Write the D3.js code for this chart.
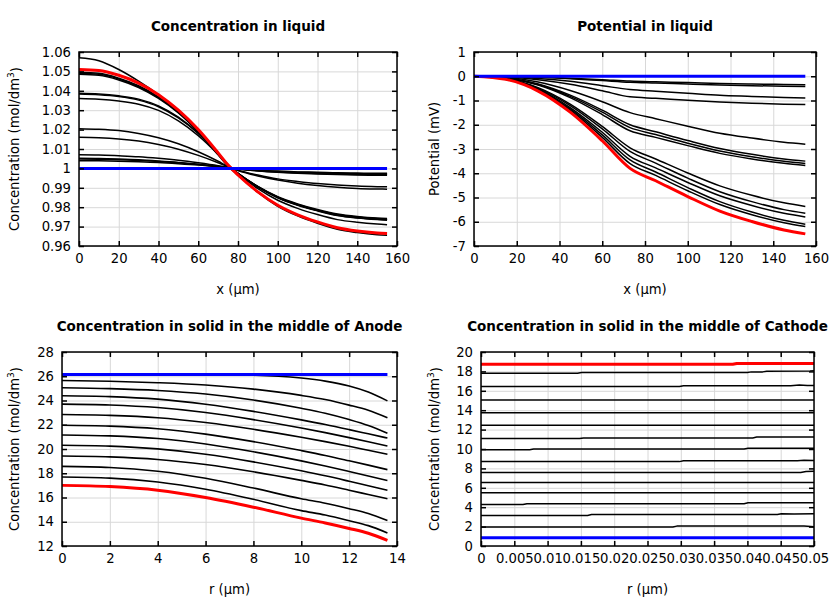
<!DOCTYPE html>
<html><head><meta charset="utf-8">
<script src="https://cdn.jsdelivr.net/npm/d3@7"></script>
<style>
body{margin:0;background:#fff;}
svg{display:block;font-family:"DejaVu Sans",sans-serif;}
</style></head><body>
<svg id="chart" width="840" height="600"></svg>
<script>
// ---------- DATA ----------
// Panel 1: Concentration in liquid
const liqX = [0,10,20,30,40,50,60,70,75,80,90,100,110,120,130,140,150,155];
const liqBlack = [
 [1.057,1.0555,1.051,1.045,1.038,1.030,1.019,1.007,1.001,0.99655,0.9876,0.9805,0.9755,0.9717,0.9686,0.9669,0.9658,0.9655],
 [1.0495,1.049,1.0465,1.0426,1.0369,1.0292,1.0193,1.0078,1.0016,0.9974,0.9907,0.9854,0.9817,0.9788,0.9765,0.9752,0.9744,0.9742],
 [1.049,1.0485,1.0461,1.0421,1.0365,1.0289,1.0191,1.0077,1.0016,0.9974,0.9905,0.9851,0.9813,0.9784,0.9761,0.9748,0.974,0.9737],
 [1.0485,1.048,1.0456,1.0417,1.0361,1.0286,1.0189,1.0076,1.0016,0.9974,0.9905,0.985,0.9812,0.9783,0.9759,0.9746,0.9738,0.9735],
 [1.0388,1.0384,1.0374,1.0357,1.0322,1.0264,1.0182,1.0078,1.0019,0.9974,0.9906,0.9852,0.9814,0.9785,0.9762,0.9748,0.9741,0.9738],
 [1.0383,1.0379,1.037,1.0352,1.0318,1.026,1.018,1.0077,1.0019,0.9973,0.9904,0.9849,0.981,0.9781,0.9757,0.9744,0.9736,0.9733],
 [1.036,1.0356,1.0347,1.0331,1.0299,1.0245,1.0169,1.0072,1.0018,0.9971,0.9896,0.9836,0.9794,0.9762,0.9736,0.9722,0.9713,0.971],
 [1.0205,1.0202,1.0195,1.018,1.0158,1.0127,1.0086,1.0037,1.001,0.9991,0.9966,0.9946,0.9933,0.9922,0.9914,0.9909,0.9906,0.9905],
 [1.016,1.0158,1.0152,1.0141,1.0123,1.0099,1.0067,1.0029,1.0008,0.9989,0.9961,0.994,0.9924,0.9912,0.9903,0.9897,0.9894,0.9893],
 [1.007,1.0069,1.0065,1.006,1.0052,1.0042,1.0029,1.0014,1.0005,0.9997,0.999,0.9984,0.998,0.9977,0.9975,0.9973,0.9972,0.9972],
 [1.0052,1.0051,1.0048,1.0044,1.0038,1.0031,1.0022,1.001,1.0004,0.9997,0.9988,0.9982,0.9977,0.9974,0.9971,0.9969,0.9968,0.9968],
 [1.0048,1.0047,1.0045,1.0041,1.0036,1.0029,1.002,1.001,1.0003,0.9997,0.9987,0.998,0.9975,0.9971,0.9968,0.9966,0.9965,0.9965],
 [1.004,1.0039,1.0037,1.0034,1.003,1.0024,1.0017,1.0008,1.0003,0.9998,0.9991,0.9986,0.9982,0.998,0.9977,0.9976,0.9975,0.9975]
];
const liqRed  = [1.051,1.0505,1.048,1.044,1.038,1.030,1.020,1.008,1.0017,0.9966,0.9879,0.981,0.9761,0.9724,0.9694,0.9677,0.9667,0.9664];
const liqBlue = [1,1,1,1,1,1,1,1,1,1,1,1,1,1,1,1,1,1];
const liqXTicks = [0,20,40,60,80,100,120,140,160];
const liqYTicks = [0.96,0.97,0.98,0.99,1,1.01,1.02,1.03,1.04,1.05,1.06];

// Panel 2: Potential in liquid
const potX = [0,15,30,45,60,73,85,100,115,130,145,155];
const potBlack = [
 [0,-0.01,-0.03,-0.08,-0.14,-0.2,-0.23,-0.26,-0.3,-0.32,-0.34,-0.35],
 [0,-0.01,-0.04,-0.1,-0.18,-0.25,-0.28,-0.32,-0.36,-0.39,-0.41,-0.42],
 [0,-0.02,-0.09,-0.21,-0.39,-0.55,-0.62,-0.7,-0.78,-0.83,-0.88,-0.9],
 [0,-0.03,-0.14,-0.33,-0.6,-0.85,-0.91,-0.99,-1.06,-1.11,-1.15,-1.17],
 [0,-0.05,-0.24,-0.59,-1.05,-1.5,-1.75,-2.06,-2.35,-2.55,-2.72,-2.8],
 [0,-0.07,-0.32,-0.78,-1.4,-2.0,-2.29,-2.65,-2.98,-3.22,-3.41,-3.5],
 [0,-0.07,-0.34,-0.83,-1.48,-2.12,-2.4,-2.76,-3.08,-3.32,-3.51,-3.6],
 [0,-0.08,-0.36,-0.88,-1.58,-2.25,-2.52,-2.86,-3.18,-3.41,-3.59,-3.68],
 [0,-0.1,-0.47,-1.15,-2.07,-2.95,-3.41,-3.99,-4.52,-4.91,-5.22,-5.37],
 [0,-0.11,-0.5,-1.21,-2.17,-3.1,-3.58,-4.2,-4.76,-5.17,-5.5,-5.65],
 [0,-0.12,-0.53,-1.29,-2.31,-3.3,-3.78,-4.38,-4.93,-5.33,-5.65,-5.8],
 [0,-0.12,-0.55,-1.35,-2.42,-3.45,-3.95,-4.59,-5.17,-5.6,-5.94,-6.1],
 [0,-0.13,-0.58,-1.4,-2.52,-3.6,-4.09,-4.72,-5.29,-5.71,-6.04,-6.2]
];
const potRed  = [0,-0.13,-0.61,-1.48,-2.66,-3.8,-4.31,-4.96,-5.56,-5.99,-6.34,-6.5];
const potBlue = [0,0,0,0,0,0,0,0,0,0,0,0];
const potXTicks = [0,20,40,60,80,100,120,140,160];
const potYTicks = [-7,-6,-5,-4,-3,-2,-1,0,1];

// Panel 3: Concentration in solid, Anode
const anodeR = [0,2,4,6,8,10,11,12,12.8,13.6];
const anodeBlack = [
 [26.12,26.12,26.12,26.12,26.08,25.85,25.6,25.2,24.7,23.97],
 [25.65,25.59,25.47,25.28,24.94,24.42,24.08,23.62,23.19,22.57],
 [25.05,24.98,24.83,24.53,24.04,23.36,22.95,22.43,21.94,21.3],
 [24.39,24.32,24.11,23.69,23.1,22.4,22.02,21.6,21.25,20.9],
 [23.7,23.63,23.42,23.01,22.42,21.73,21.35,20.94,20.6,20.25],
 [22.84,22.77,22.58,22.18,21.63,20.97,20.61,20.22,19.89,19.56],
 [21.96,21.89,21.67,21.23,20.61,19.87,19.47,19.03,18.67,18.3],
 [21.16,21.08,20.86,20.41,19.77,19.02,18.6,18.15,17.78,17.4],
 [20.31,20.24,20.01,19.57,18.94,18.2,17.79,17.34,16.97,16.6],
 [19.42,19.35,19.14,18.72,18.12,17.41,17.03,16.6,16.25,15.9],
 [18.57,18.48,18.17,17.59,16.78,15.89,15.53,15.08,14.68,14.1],
 [17.69,17.6,17.28,16.68,15.85,14.92,14.56,14.09,13.68,13.08]
];
const anodeRed  = [17.0,16.9,16.6,16.0,15.2,14.3,13.9,13.45,13.05,12.47];
const anodeBlue = [26.15,26.15,26.15,26.15,26.15,26.15,26.15,26.15,26.15,26.15];
const anodeXTicks = [0,2,4,6,8,10,12,14];
const anodeYTicks = [12,14,16,18,20,22,24,26,28];

// Panel 4: Concentration in solid, Cathode  (each line: [r, c] points)
const cathodeBlack = [
 [[0,17.8],[0.0145,17.8],[0.0151,17.88],[0.04,17.88],[0.0406,17.95],[0.0423,17.95],[0.0429,18.02],[0.0494,18.04],[0.05,18.08]],
 [[0,16.45],[0.0298,16.45],[0.0304,16.52],[0.0465,16.52],[0.0478,16.6],[0.049,16.55],[0.05,16.55]],
 [[0,15.04],[0.05,15.06]],
 [[0,13.74],[0.05,13.74]],
 [[0,12.44],[0.05,12.45]],
 [[0,11.08],[0.0148,11.08],[0.0154,11.14],[0.0408,11.14],[0.0414,11.23],[0.05,11.25]],
 [[0,9.92],[0.0073,9.92],[0.0079,10.0],[0.0395,10.0],[0.0401,10.07],[0.05,10.08]],
 [[0,8.7],[0.0298,8.7],[0.0304,8.79],[0.0475,8.8],[0.0485,8.85],[0.05,8.82]],
 [[0,7.57],[0.048,7.57],[0.0488,7.68],[0.05,7.7]],
 [[0,6.55],[0.05,6.55]],
 [[0,5.5],[0.05,5.5]],
 [[0,4.27],[0.0063,4.27],[0.0069,4.36],[0.0395,4.36],[0.0401,4.45],[0.05,4.45]],
 [[0,3.15],[0.016,3.15],[0.0166,3.25],[0.0445,3.25],[0.0451,3.33],[0.047,3.3],[0.05,3.32]],
 [[0,1.95],[0.0288,1.95],[0.0294,2.05],[0.0485,2.05],[0.05,1.98]]
];
const cathodeRed  = [[0,18.73],[0.0378,18.73],[0.0384,18.82],[0.05,18.82]];
const cathodeBlue = [[0,0.86],[0.05,0.86]];
const cathXTicks = [0,0.005,0.01,0.015,0.02,0.025,0.03,0.035,0.04,0.045,0.05];
const cathYTicks = [0,2,4,6,8,10,12,14,16,18,20];

// ---------- DRAWING ----------
const svg = d3.select("#chart");
const fmt = d => String(+d.toFixed(6));

function panel(o){
  const g = svg.append("g");
  const x = d3.scaleLinear().domain(o.xDom).range([o.x0, o.x1]);
  const y = d3.scaleLinear().domain(o.yDom).range([o.y1, o.y0]);
  const H = o.y1 - o.y0, W = o.x1 - o.x0;
  // grid
  g.append("g").attr("transform",`translate(0,${o.y1})`)
    .call(d3.axisBottom(x).tickValues(o.xTicks).tickSize(-H).tickFormat(""))
    .call(s=>{s.select(".domain").remove(); s.selectAll("line").attr("stroke","#d8d8d8").attr("stroke-width",1);});
  g.append("g").attr("transform",`translate(${o.x0},0)`)
    .call(d3.axisLeft(y).tickValues(o.yTicks).tickSize(-W).tickFormat(""))
    .call(s=>{s.select(".domain").remove(); s.selectAll("line").attr("stroke","#d8d8d8").attr("stroke-width",1);});
  // lines
  const lineXY = (xs, curve) => d3.line().x((d,i)=>x(xs[i])).y(d=>y(d)).curve(curve);
  const linePts = d3.line().x(d=>x(d[0])).y(d=>y(d[1]));
  const drawSeries = (vals, color, w) => {
    const p = g.append("path").attr("fill","none").attr("stroke",color).attr("stroke-width",w)
      .attr("stroke-linejoin","round").attr("stroke-linecap","butt");
    if (o.pts) p.attr("d", linePts(vals)); else p.attr("d", lineXY(o.xs, o.curve)(vals));
  };
  o.black.forEach(v => drawSeries(v, "#000", o.bw || 1.5));
  drawSeries(o.red, "#ff0000", 3);
  drawSeries(o.blue, "#0000ff", 3);
  // axes with labels
  const ax = g.append("g").attr("transform",`translate(0,${o.y1})`)
    .call(d3.axisBottom(x).tickValues(o.xTicks).tickSizeInner(-5).tickSizeOuter(0).tickPadding(8).tickFormat(fmt));
  const ay = g.append("g").attr("transform",`translate(${o.x0},0)`)
    .call(d3.axisLeft(y).tickValues(o.yTicks).tickSizeInner(-5).tickSizeOuter(0).tickPadding(8).tickFormat(fmt));
  const axT = g.append("g").attr("transform",`translate(0,${o.y0})`)
    .call(d3.axisTop(x).tickValues(o.xTicks).tickSizeInner(-5).tickSizeOuter(0).tickFormat(""));
  const ayR = g.append("g").attr("transform",`translate(${o.x1},0)`)
    .call(d3.axisRight(y).tickValues(o.yTicks).tickSizeInner(-5).tickSizeOuter(0).tickFormat(""));
  [ax,ay,axT,ayR].forEach(a=>{
    a.select(".domain").remove();
    a.selectAll("line").attr("stroke","#000").attr("stroke-width",1.5);
    a.selectAll("text").attr("font-size",13.2).attr("fill","#000").attr("font-family","DejaVu Sans, sans-serif");
  });
  g.append("rect").attr("x",o.x0).attr("y",o.y0).attr("width",W).attr("height",H)
    .attr("fill","none").attr("stroke","#000").attr("stroke-width",1.5);
  // titles
  g.append("text").attr("x",(o.x0+o.x1)/2).attr("y",o.y0-21).attr("text-anchor","middle")
    .attr("font-size",13.5).attr("font-weight","bold").text(o.title);
  g.append("text").attr("x",(o.x0+o.x1)/2).attr("y",o.y1+48).attr("text-anchor","middle")
    .attr("font-size",13.2).text(o.xLabel);
  const yl = g.append("text").attr("transform",`translate(${o.yLabX},${(o.y0+o.y1)/2}) rotate(-90)`)
    .attr("text-anchor","middle").attr("dy","0.35em").attr("font-size",13.2);
  yl.append("tspan").text(o.yLabel);
  if (o.sup){
    yl.append("tspan").attr("font-size",9).attr("dy","-0.5em").text(o.sup);
    yl.append("tspan").attr("dy","0.5em").attr("font-size",13.2).text(")");
  }
}

panel({x0:79,x1:397,y0:52,y1:246,xDom:[0,160],yDom:[0.96,1.06],xTicks:liqXTicks,yTicks:liqYTicks,
  xs:liqX,curve:d3.curveMonotoneX,black:liqBlack,red:liqRed,blue:liqBlue,
  title:"Concentration in liquid",xLabel:"x (µm)",yLabX:14,yLabel:"Concentration (mol/dm",sup:"3"});
panel({x0:474,x1:816,y0:52,y1:246,xDom:[0,160],yDom:[-7,1],xTicks:potXTicks,yTicks:potYTicks,
  xs:potX,curve:d3.curveMonotoneX,black:potBlack,red:potRed,blue:potBlue,
  title:"Potential in liquid",xLabel:"x (µm)",yLabX:434,yLabel:"Potential (mV)"});
panel({x0:62,x1:397,y0:352,y1:546,xDom:[0,14],yDom:[12,28],xTicks:anodeXTicks,yTicks:anodeYTicks,
  xs:anodeR,curve:d3.curveMonotoneX,black:anodeBlack,red:anodeRed,blue:anodeBlue,bw:1.6,
  title:"Concentration in solid in the middle of Anode",xLabel:"r (µm)",yLabX:14,yLabel:"Concentration (mol/dm",sup:"3"});
panel({x0:481,x1:814,y0:352,y1:546,xDom:[0,0.05],yDom:[0,20],xTicks:cathXTicks,yTicks:cathYTicks,
  pts:true,black:cathodeBlack,red:cathodeRed,blue:cathodeBlue,
  title:"Concentration in solid in the middle of Cathode",xLabel:"r (µm)",yLabX:434,yLabel:"Concentration (mol/dm",sup:"3"});
</script>
</body></html>
